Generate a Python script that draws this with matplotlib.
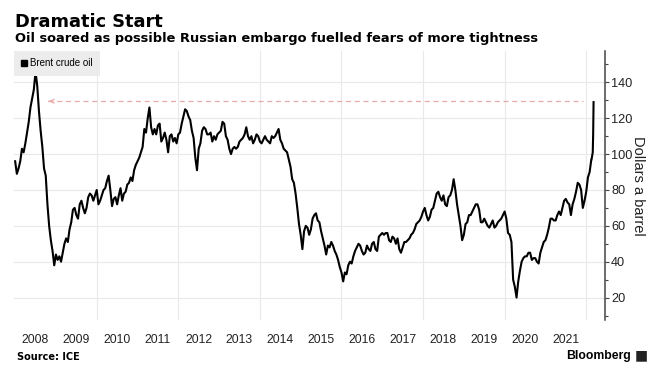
import numpy as np
import matplotlib
matplotlib.use("Agg")
import matplotlib.pyplot as plt
from matplotlib.lines import Line2D

plt.rcParams["font.family"] = ["Liberation Sans", "DejaVu Sans"]

# Brent crude, USD/bbl, two readings a month (1st and 15th)
y2008 = [96, 89, 92, 96, 103, 101, 106, 112, 118, 126, 131, 136, 146, 138, 124, 113, 104, 92, 88, 72, 60, 52, 46, 38]
y2009 = [44, 41, 43, 40, 45, 50, 53, 51, 58, 62, 69, 70, 66, 64, 72, 74, 70, 67, 70, 76, 78, 77, 74, 77]
y2010 = [80, 72, 74, 77, 80, 81, 85, 88, 80, 71, 75, 76, 72, 77, 81, 74, 78, 79, 83, 84, 87, 85, 91, 94]
y2011 = [96, 98, 101, 104, 114, 112, 120, 126, 115, 111, 114, 111, 116, 117, 107, 109, 112, 108, 101, 110, 111, 107, 109, 106]
y2012 = [111, 112, 117, 121, 125, 124, 121, 119, 113, 109, 98, 91, 103, 106, 113, 115, 114, 111, 111, 112, 107, 110, 108, 111]
y2013 = [112, 113, 118, 117, 110, 108, 103, 100, 103, 104, 103, 104, 107, 108, 109, 111, 115, 110, 108, 110, 106, 108, 111, 110]
y2014 = [107, 106, 108, 110, 108, 107, 106, 110, 109, 110, 112, 114, 108, 106, 103, 102, 101, 97, 93, 86, 84, 78, 70, 61]
y2015 = [55, 47, 57, 60, 59, 55, 58, 64, 66, 67, 63, 62, 57, 53, 49, 44, 49, 48, 51, 49, 46, 44, 41, 37]
y2016 = [34, 29, 34, 33, 38, 40, 39, 43, 46, 48, 50, 49, 46, 44, 45, 49, 47, 46, 50, 51, 47, 46, 54, 55]
y2017 = [56, 55, 56, 56, 52, 51, 54, 53, 50, 53, 47, 45, 48, 51, 51, 52, 53, 55, 56, 58, 61, 62, 63, 65]
y2018 = [68, 70, 66, 63, 65, 69, 70, 74, 78, 79, 76, 74, 77, 72, 71, 76, 77, 80, 86, 80, 72, 66, 60, 52]
y2019 = [55, 61, 62, 66, 66, 68, 70, 72, 72, 69, 62, 62, 64, 62, 60, 59, 61, 63, 59, 60, 62, 63, 64, 66]
y2020 = [68, 64, 56, 55, 51, 30, 26, 20, 29, 35, 40, 42, 43, 43, 45, 45, 41, 42, 42, 40, 39, 45, 48, 51]
y2021 = [52, 55, 59, 64, 64, 63, 63, 66, 68, 66, 70, 74, 75, 73, 72, 66, 72, 75, 79, 84, 83, 80, 70, 74]
y2022 = [79, 87, 90, 97]

# the last days of the spike
spike_dates = [2022.13, 2022.16, 2022.17, 2022.18]
spike_values = [97, 101, 111, 129]

latest = 129.5
years = list(range(2008, 2022))
year_labels = [str(y) for y in years]

prices = (y2008 + y2009 + y2010 + y2011 + y2012 + y2013 + y2014 + y2015 + y2016
          + y2017 + y2018 + y2019 + y2020 + y2021 + y2022)
dates = 2008 + np.arange(len(prices)) / 24.0
dates = np.concatenate([dates, spike_dates])
prices = np.concatenate([prices, spike_values])

fig = plt.figure(figsize=(6.63, 3.91), dpi=100)
ax = fig.add_axes([0.021, 0.1816, 0.8915, 0.688])

ax.plot(dates, prices, color="black", lw=1.5, zorder=3)

# dashed line back to the 2008 level
ax.plot([2008.8, 2021.92], [latest, latest], color="#eaa9a9", lw=0.9,
        ls=(0, (4, 3)), zorder=2)
ax.annotate("", xy=(2008.76, latest), xytext=(2008.9, latest),
            arrowprops=dict(arrowstyle="->", color="#eaa9a9", lw=0.9,
                            mutation_scale=7))

ax.set_xlim(2007.97, 2022.46)
ax.set_ylim(7.5, 157.5)

ax.set_xticks(np.arange(2010, 2023, 2))
ax.set_xticklabels([])
ax.set_xticks(np.array(years) + 0.5, minor=True)
ax.set_xticklabels(year_labels, minor=True)
ax.tick_params(axis="x", which="both", length=0, pad=10,
               labelsize=8.7, labelcolor="#222")

ax.yaxis.tick_right()
ax.yaxis.set_label_position("right")
ax.set_yticks(np.arange(20, 141, 20))
ax.set_yticks(np.arange(10, 151, 20), minor=True)
ax.tick_params(axis="y", which="major", direction="out", length=3, width=0.8,
               color="#444", labelsize=9.2, labelcolor="#222", pad=1.5)
ax.tick_params(axis="y", which="minor", direction="out", length=2, width=0.8,
               color="#444")
ax.set_ylabel("Dollars a barrel", rotation=270, fontsize=10.5, color="#222",
              labelpad=9)

ax.grid(True, which="major", color="#e9e9e9", lw=0.8)
ax.set_axisbelow(True)
for s in ["left", "top", "bottom"]:
    ax.spines[s].set_visible(False)
ax.spines["right"].set_color("#444")
ax.spines["right"].set_linewidth(1.1)

handle = Line2D([], [], marker="s", ls="", color="black", markersize=4.5)
leg = ax.legend([handle], ["Brent crude oil"], loc="upper left",
                fontsize=7, frameon=True, fancybox=False,
                facecolor="#ececec", edgecolor="none", framealpha=1,
                handlelength=0.6, handletextpad=0.3, borderpad=0.75,
                borderaxespad=0.0)

fig.text(0.022, 0.931, "Dramatic Start", fontsize=12.8, fontweight="bold",
         family="DejaVu Sans", va="baseline")
fig.text(0.022, 0.893, "Oil soared as possible Russian embargo fuelled fears of more tightness",
         fontsize=9.4, fontweight="bold", family="DejaVu Sans", va="baseline")
fig.text(0.026, 0.088, "Source: ICE", fontsize=7, fontweight="bold",
         family="DejaVu Sans", va="center")
fig.text(0.952, 0.09, "Bloomberg", fontsize=8.8, fontweight="bold",
         ha="right", va="center")
fig.text(0.958, 0.092, "\u25A0", fontsize=10, color="#222", va="center",
         family="DejaVu Sans")

fig.savefig("out.png", dpi=100)
